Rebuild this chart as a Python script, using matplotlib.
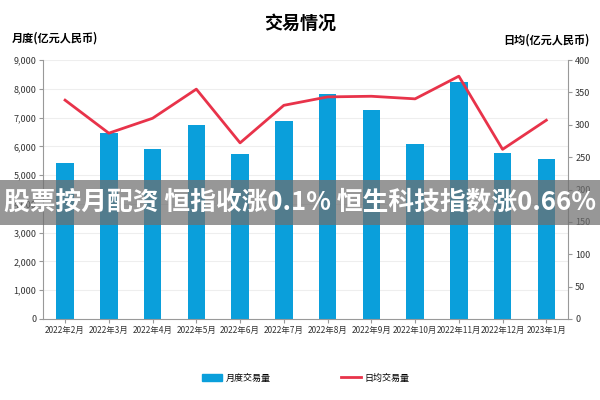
import matplotlib
matplotlib.use("Agg")
import matplotlib.pyplot as plt
from matplotlib.patches import Rectangle
from matplotlib.lines import Line2D
from matplotlib.patches import Patch
import numpy as np

plt.rcParams['font.family'] = ['Noto Sans CJK SC', 'DejaVu Sans']

months = ["2022年2月", "2022年3月", "2022年4月", "2022年5月", "2022年6月", "2022年7月",
          "2022年8月", "2022年9月", "2022年10月", "2022年11月", "2022年12月", "2023年1月"]
monthly = [5420, 6460, 5900, 6740, 5730, 6880, 7810, 7260, 6080, 8230, 5760, 5560]
daily = [338, 287, 310, 355, 272, 330, 343, 344, 340, 375, 262, 307]

blue = "#0A9FDB"
red = "#E8334A"

fig = plt.figure(figsize=(6, 4), dpi=100)
ax = fig.add_axes([0.072, 0.2025, 0.875, 0.6475])
x = np.arange(len(months))
ax.bar(x, monthly, width=0.4, color=blue, zorder=2)
ax.set_ylim(0, 9000)
ax.set_yticks(range(0, 9001, 1000))
ax.set_yticklabels([f"{v:,}" for v in range(0, 9001, 1000)], fontsize=6.5, color="#333333")
ax.set_xlim(-0.5, len(months) - 0.5)
ax.set_xticks(x)
ax.set_xticklabels(months, fontsize=6, color="#333333")
ax.grid(axis='y', color="#eeeeee", linewidth=0.8, zorder=0)
for s in ['top', 'right']:
    ax.spines[s].set_visible(False)
ax.spines['left'].set_color("#999999")
ax.spines['bottom'].set_color("#999999")
ax.tick_params(axis='both', length=3, color="#999999", pad=2)

ax2 = ax.twinx()
ax2.plot(x, daily, color=red, linewidth=2, zorder=3)
ax2.set_ylim(0, 400)
ax2.set_yticks(range(0, 401, 50))
ax2.set_yticklabels([str(v) for v in range(0, 401, 50)], fontsize=6.5, color="#333333")
for s in ['top', 'left']:
    ax2.spines[s].set_visible(False)
ax2.spines['right'].set_color("#999999")
ax2.spines['bottom'].set_visible(False)
ax2.tick_params(axis='y', length=3, color="#999999", pad=2)

fig.text(0.5, 0.943, "交易情况", ha='center', va='center', fontsize=13, fontweight='bold')
fig.text(0.02, 0.905, "月度(亿元人民币)", ha='left', va='center', fontsize=8, fontweight='bold')
fig.text(0.983, 0.9, "日均(亿元人民币)", ha='right', va='center', fontsize=8, fontweight='bold')

handles = [Patch(color=blue), Line2D([0], [0], color=red, linewidth=2)]
fig.legend(handles, ["月度交易量", "日均交易量"], loc='center', bbox_to_anchor=(0.51, 0.055),
           ncol=2, frameon=False, fontsize=6.5, columnspacing=7.8, handlelength=2.2,
           handleheight=0.7, handletextpad=0.4)

fig.patches.append(Rectangle((0, 0.4375), 1, 0.1125, transform=fig.transFigure,
                             facecolor="#6f6f6f", alpha=0.72, zorder=10))
fig.text(0.5, 0.495, "股票按月配资 恒指收涨0.1% 恒生科技指数涨0.66%", ha='center', va='center',
         fontsize=18.5, fontweight='bold', color='white', zorder=11)

fig.savefig("out.png", dpi=100)
